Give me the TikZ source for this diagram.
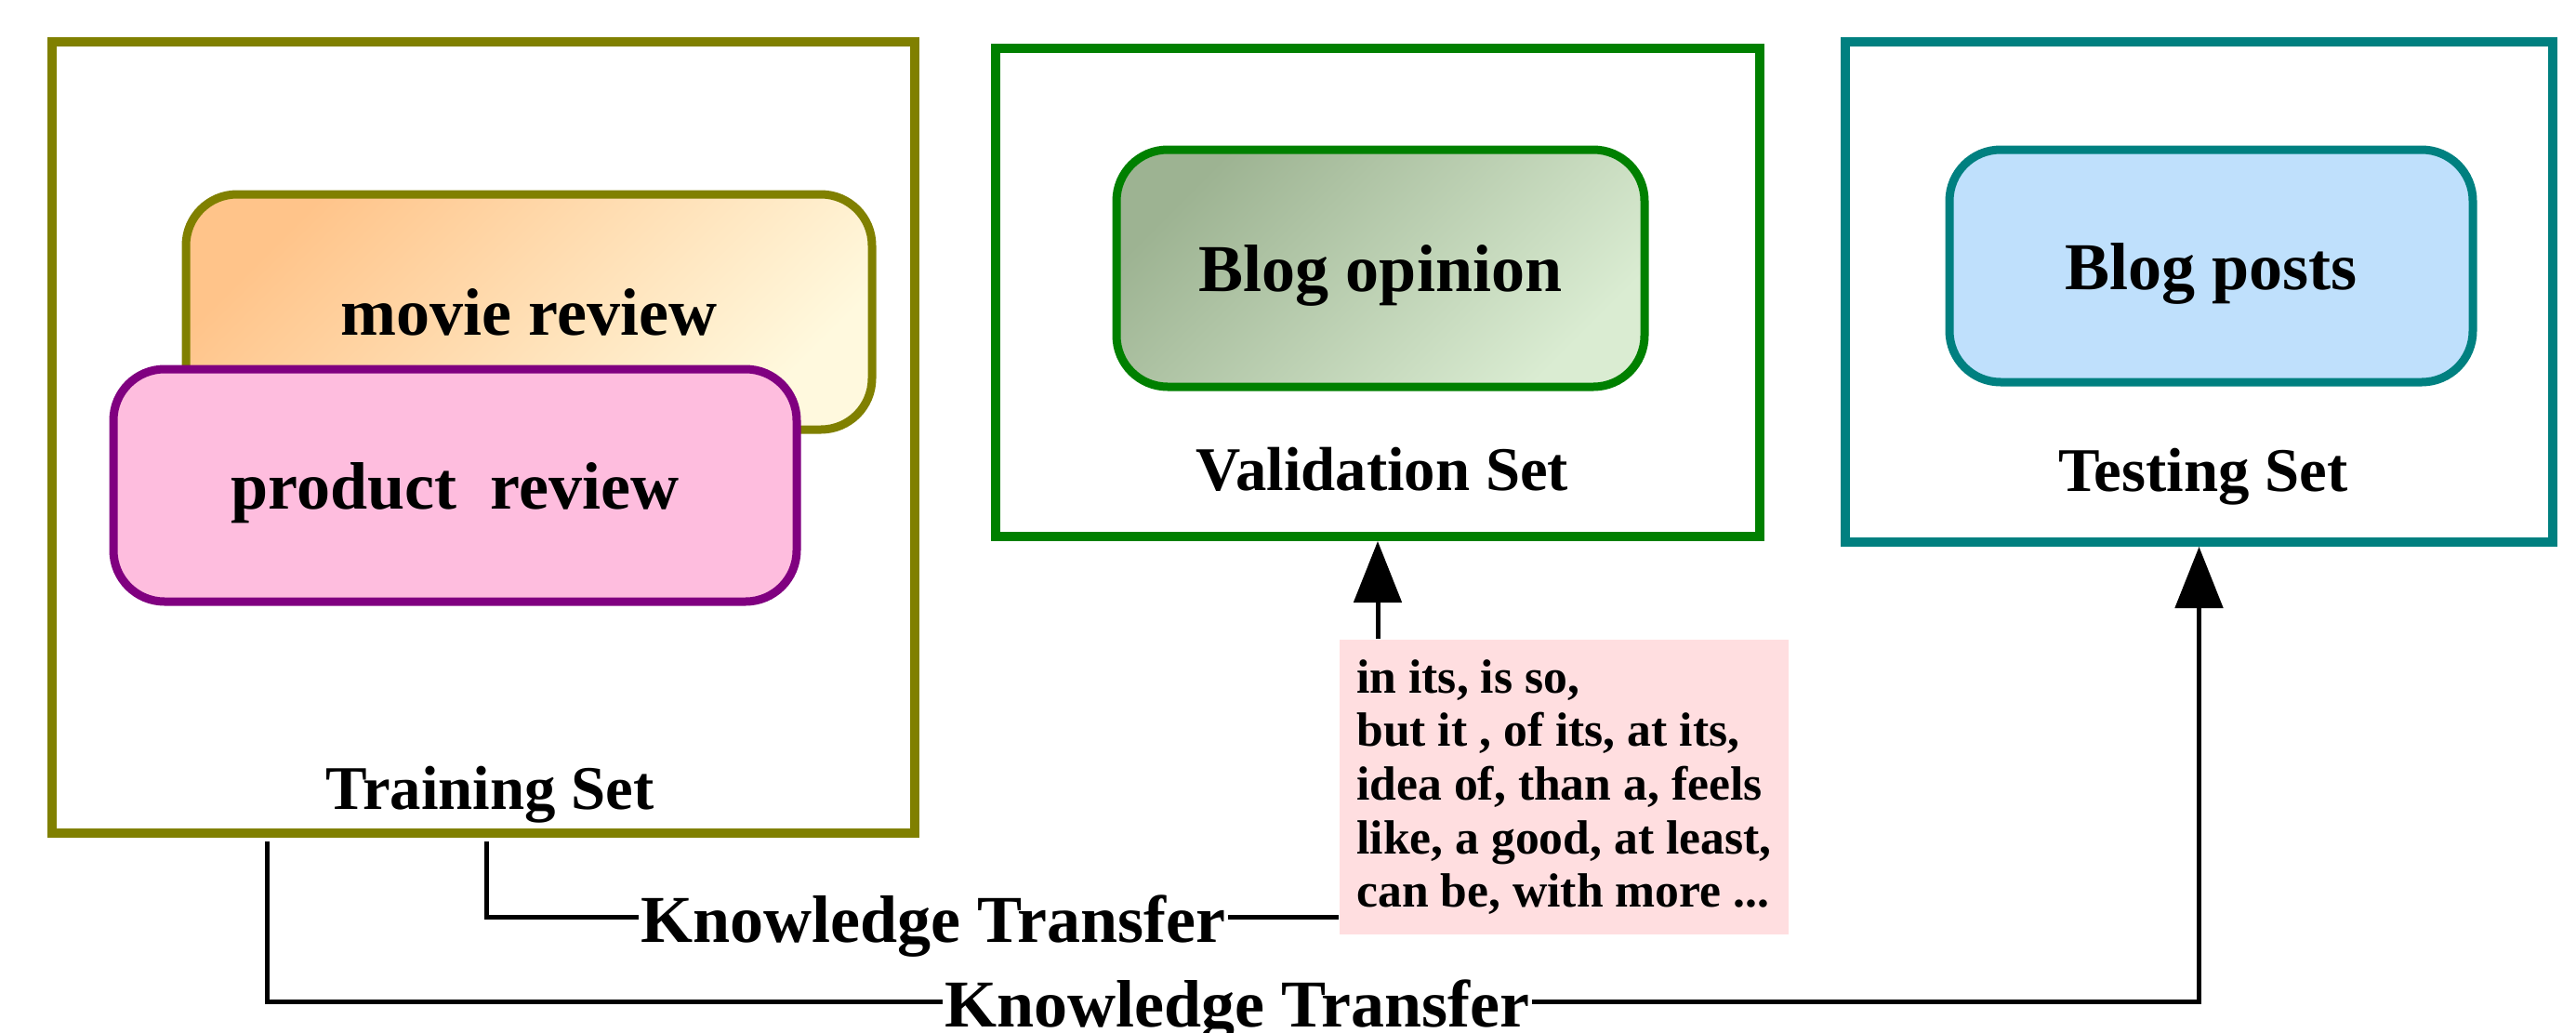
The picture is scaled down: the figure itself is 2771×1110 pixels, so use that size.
\documentclass[tikz,border=0pt]{standalone}
\usepackage{fontspec}
\setmainfont{Liberation Serif}
\usepackage{tikz}
\usetikzlibrary{arrows.meta,positioning,shadings}
\definecolor{olivebrd}{HTML}{808000}
\definecolor{purplebrd}{HTML}{800080}
\definecolor{greenbrd}{HTML}{008000}
\definecolor{tealbrd}{HTML}{008080}
\definecolor{peachtop}{HTML}{FFC48A}
\definecolor{peachbot}{HTML}{FFF9DE}
\definecolor{pinkfill}{HTML}{FEBDDE}
\definecolor{sagetop}{HTML}{9DB392}
\definecolor{sagebot}{HTML}{DAECD2}
\definecolor{skyfill}{HTML}{BFE0FC}
\definecolor{notefill}{HTML}{FFDEE0}
\tikzset{
  setbox/.style={
    rectangle,
    line width=1mm,
    inner sep=0pt
  },
  databox/.style={
    rectangle,
    rounded corners=5.5mm,
    line width=0.9mm,
    inner sep=0pt,
    text depth=0pt,
    font=\bfseries\fontsize{20.5pt}{24pt}\selectfont
  },
  setlabel/.style={
    anchor=base,
    inner sep=0pt,
    font=\bfseries\fontsize{19pt}{22pt}\selectfont
  },
  notebox/.style={
    rectangle,
    fill=notefill,
    inner xsep=0.6mm,
    inner ysep=0pt,
    align=left,
    font=\bfseries\fontsize{14.7pt}{16.4pt}\selectfont
  },
  ktlabel/.style={
    inner xsep=0.5pt,
    inner ysep=0pt,
    text height=5.4mm,
    text depth=0pt,
    font=\bfseries\fontsize{20.5pt}{24pt}\selectfont
  },
  flowline/.style={line width=0.5mm},
  flowarrow/.style={flowline,-{Triangle[length=6.6mm,width=5.1mm]}}
}
\begin{document}
\begin{tikzpicture}[x=0.1mm,y=-0.1mm]
  \useasboundingbox (0,0) rectangle (2771,1110);
  \node[setbox, draw=olivebrd, minimum width=92.8mm, minimum height=85.1mm] (train) at (520,470.5) {};
  \node[setbox, draw=greenbrd, minimum width=82.2mm, minimum height=52.5mm] (val) at (1482,314.5) {};
  \node[setbox, draw=tealbrd, minimum width=76.1mm, minimum height=53.8mm] (test) at (2365.5,314) {};
  \node[databox, draw=olivebrd, top color=peachtop, bottom color=peachbot, shading angle=45,
        minimum width=73.8mm, minimum height=25.3mm] (movie) at (569,335.5) {movie review};
  \node[databox, draw=purplebrd, fill=pinkfill,
        minimum width=73.5mm, minimum height=25mm] (product) at (489.5,522) {product~~review};
  \node[databox, draw=greenbrd, top color=sagetop, bottom color=sagebot, shading angle=45,
        minimum width=56.8mm, minimum height=25.5mm] (opinion) at (1485,288.5) {Blog opinion};
  \node[databox, draw=tealbrd, fill=skyfill,
        minimum width=56.3mm, minimum height=25mm] (posts) at (2378.5,286) {Blog posts};
  \node[setlabel] (trainlbl) at (527,870) {Training Set};
  \node[setlabel] (vallbl) at (1487,527) {Validation Set};
  \node[setlabel] (testlbl) at (2370,528) {Testing Set};
  \node[notebox, minimum width=48.3mm, minimum height=31.7mm] (note) at (1682.5,846.5)
    {in its, is so,\\
     but it , of its, at its,\\
     idea of, than a, feels\\
     like, a good, at least,\\
     can be, with more ...};
  \node[ktlabel] (kt1) at (1004,986) {Knowledge Transfer};
  \node[ktlabel] (kt2) at (1331,1077) {Knowledge Transfer};
  \coordinate (kt1src) at (523,905);
  \coordinate (kt2src) at (287,905);
  \draw[flowline] (kt1src) |- (kt1.west);
  \draw[flowline] (kt1.east) -- (kt1.east -| note.west);
  \draw[flowarrow] (val.south |- note.north) -- (val.south);
  \draw[flowline] (kt2src) |- (kt2.west);
  \draw[flowarrow] (kt2.east) -| (test.south);
\end{tikzpicture}
\end{document}
